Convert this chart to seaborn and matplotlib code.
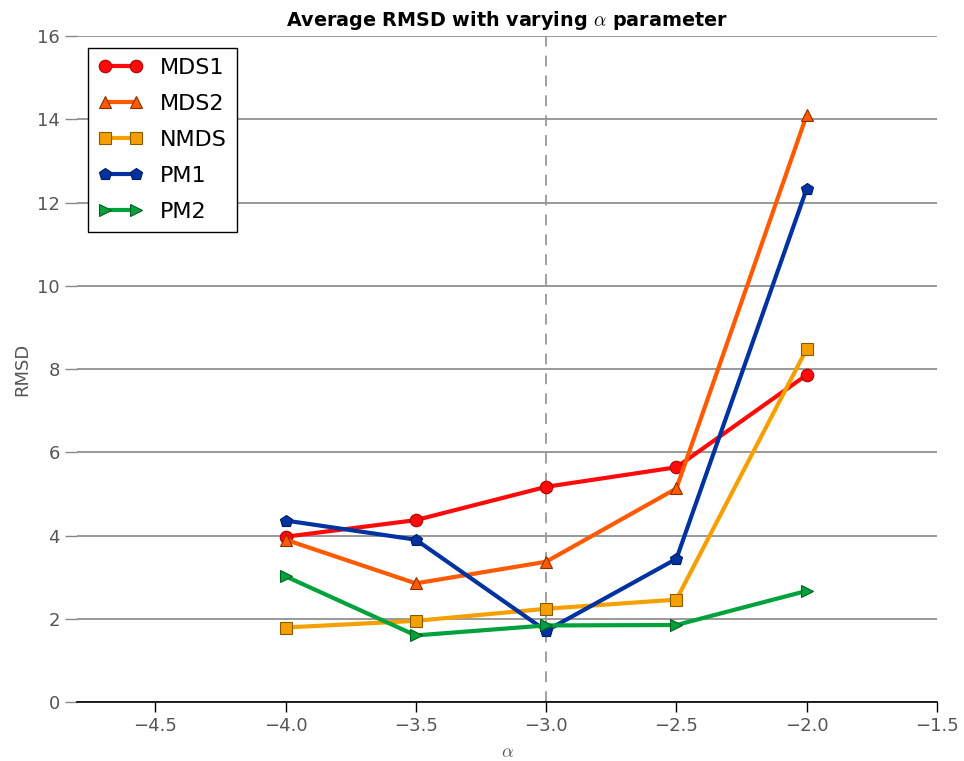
import numpy as np
import pandas as pd
import seaborn as sns
import matplotlib
matplotlib.use("Agg")
import matplotlib.pyplot as plt

# alpha values and average RMSD per method
alpha = [-4.0, -3.5, -3.0, -2.5, -2.0]
mds1 = [3.97, 4.37, 5.17, 5.64, 7.86]
mds2 = [3.90, 2.85, 3.37, 5.13, 14.10]
nmds = [1.79, 1.95, 2.24, 2.46, 8.48]
pm1 = [4.36, 3.90, 1.71, 3.44, 12.33]
pm2 = [3.02, 1.60, 1.84, 1.85, 2.67]

methods = ["MDS1", "MDS2", "NMDS", "PM1", "PM2"]
series = [mds1, mds2, nmds, pm1, pm2]
colors = ["#ff0a0a", "#ff5a00", "#f5a000", "#0033a0", "#00a23c"]
edges = ["#b00000", "#8a3000", "#8a5a00", "#001a60", "#006020"]
markers = ["o", "^", "s", "p", ">"]

df = pd.DataFrame({
    "alpha": np.tile(alpha, len(methods)),
    "RMSD": np.concatenate(series),
    "method": np.repeat(methods, len(alpha)),
})

sns.set_style("white")
plt.rcParams["mathtext.fontset"] = "cm"
plt.rcParams["font.family"] = ["DejaVu Sans"]

fig = plt.figure(figsize=(9.64, 7.61), dpi=100)
ax = fig.add_axes([0.0799, 0.0775, 0.8921, 0.8752])

for m, c, ec, mk in zip(methods, colors, edges, markers):
    sub = df[df["method"] == m]
    sns.lineplot(data=sub, x="alpha", y="RMSD", ax=ax, color=c, marker=mk,
                 markersize=9, markeredgecolor=ec, markeredgewidth=0.8,
                 linewidth=3, label=m, zorder=3)

ax.axvline(-3.0, color="#999999", linestyle=(0, (6, 5)), linewidth=1.3, zorder=1)

ax.set_xlim(-4.8, -1.5)
ax.set_ylim(0, 16)
ax.set_xticks(np.arange(-4.5, -1.49, 0.5))
ax.set_yticks(np.arange(0, 16.1, 2))
ax.yaxis.grid(True, color="#888888", linewidth=1.2)
ax.xaxis.grid(False)
ax.set_axisbelow(True)

for s in ["top", "right", "left"]:
    ax.spines[s].set_visible(False)
ax.spines["bottom"].set_color("black")
ax.spines["bottom"].set_linewidth(1.2)

ax.tick_params(axis="x", direction="out", length=7, width=1, color="black",
               labelsize=13, labelcolor="#555555", bottom=True)
ax.tick_params(axis="y", direction="out", length=9, width=1, color="#888888",
               labelsize=13, labelcolor="#555555", left=True)

ax.set_xlabel(r"$\alpha$", fontsize=13, color="#555555", labelpad=6)
ax.set_ylabel("RMSD", fontsize=13, color="#555555", labelpad=4)
ax.set_title(r"Average RMSD with varying $\alpha$ parameter", fontsize=13.8,
             fontweight="bold", color="black", pad=7)

leg = ax.legend(loc="upper left", bbox_to_anchor=(0.0128, 0.982),
                borderaxespad=0, numpoints=2, fontsize=16, frameon=True,
                fancybox=False, framealpha=1, handlelength=2.0,
                borderpad=0.45, labelspacing=0.72, handletextpad=0.8)
leg.get_frame().set_edgecolor("black")
leg.get_frame().set_linewidth(1)
for t in leg.get_texts():
    t.set_color("black")

fig.savefig("out.png", dpi=100)
